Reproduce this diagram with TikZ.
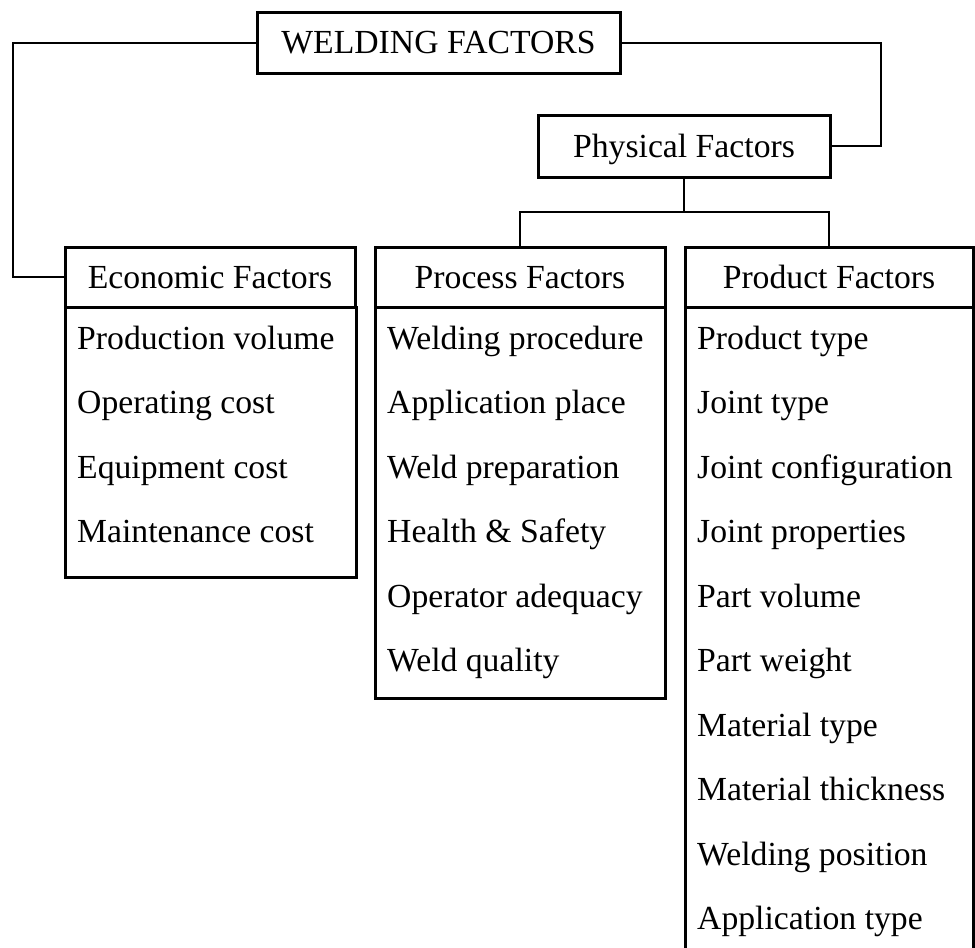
\documentclass[tikz,border=0pt]{standalone}
\usepackage{fontspec}
\setmainfont{Liberation Serif}
\begin{document}
\begin{tikzpicture}[x=1pt,y=-1pt,
  every node/.style={font=\fontsize{33.7pt}{40pt}\selectfont},
  box/.style={draw,line width=3pt,inner sep=0pt,text height=22pt,text depth=0pt},
  body/.style={draw,line width=3pt,inner sep=0pt},
  item/.style={anchor=base west,inner sep=0pt},
  conn/.style={line width=2pt}]
\useasboundingbox (0,0) rectangle (975,948);
% headers
\node[box,minimum width=363pt,minimum height=61pt] (W) at (438.5,42.5) {WELDING FACTORS};
\node[box,minimum width=292pt,minimum height=62pt] (P) at (684,146) {Physical Factors};
\node[box,minimum width=290pt,minimum height=60pt] (E) at (210,277) {Economic Factors};
\node[box,minimum width=290pt,minimum height=60pt] (R) at (520,277) {Process Factors};
\node[box,minimum width=288pt,minimum height=60pt] (D) at (829,277) {Product Factors};
% bodies
\node[body,minimum width=291pt,minimum height=270pt] (EB) at (210.5,442) {};
\node[body,minimum width=290pt,minimum height=391pt] (RB) at (520,502.5) {};
\node[body,minimum width=288pt,minimum height=700pt] (DB) at (829,657) {};
% items
\foreach \t [count=\i] in {Production volume, Operating cost, Equipment cost, Maintenance cost}
  \node[item] (e\i) at (77,{349+64.5*(\i-1)}) {\t};
\foreach \t [count=\i] in {Welding procedure, Application place, Weld preparation, Health \& Safety, Operator adequacy, Weld quality}
  \node[item] (r\i) at (387,{349+64.5*(\i-1)}) {\t};
\foreach \t [count=\i] in {Product type, Joint type, Joint configuration, Joint properties, Part volume, Part weight, Material type, Material thickness, Welding position, Application type}
  \node[item] (d\i) at (697,{349+64.5*(\i-1)}) {\t};
% connectors
\draw[conn] (W.west) -| ([xshift=-51pt]E.west) -- (E.west);
\draw[conn] (W.east) -| ([xshift=49pt]P.east) -- (P.east);
\coordinate (J) at (684,212);
\draw[conn] (P.south) -- (J);
\draw[conn] (R.north) |- (J) -| (D.north);
\end{tikzpicture}
\end{document}
